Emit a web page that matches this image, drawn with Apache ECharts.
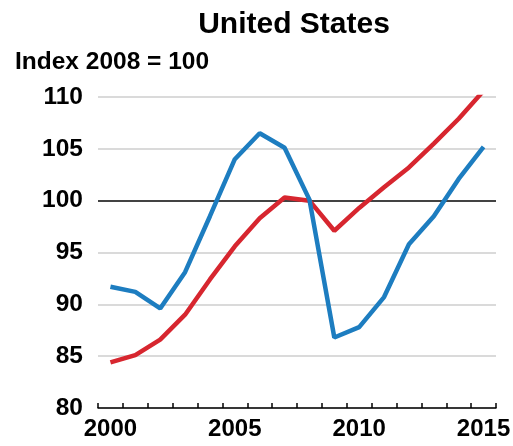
<!DOCTYPE html>
<html><head><meta charset="utf-8">
<script src="https://cdn.jsdelivr.net/npm/echarts@6/dist/echarts.min.js"></script>
<style>html,body{margin:0;padding:0;background:#fff}#c{width:513px;height:446px}</style>
</head><body><div id="c"></div>
<script>
const years = ['2000','2001','2002','2003','2004','2005','2006','2007','2008','2009','2010','2011','2012','2013','2014','2015'];
const blueValues = [91.7, 91.2, 89.6, 93.1, 98.5, 104.0, 106.5, 105.1, 100.1, 86.8, 87.8, 90.7, 95.8, 98.5, 102.1, 105.2];
const redValues = [84.4, 85.1, 86.6, 89.0, 92.4, 95.6, 98.3, 100.3, 100.0, 97.1, 99.3, 101.3, 103.2, 105.5, 107.9, 110.6];
const baseline = 100;
const yMin = 80, yMax = 110, yStep = 5;
const titleText = 'United States';
const unitText = 'Index 2008 = 100';

const FONT = '"Liberation Sans", Arial, Helvetica, sans-serif';
const chart = echarts.init(document.getElementById('c'), null, {renderer: 'canvas'});
chart.setOption({
  animation: false,
  backgroundColor: '#fff',
  grid: {left: 98, right: 17, top: 97, bottom: 38, containLabel: false, outerBoundsMode: 'none'},
  graphic: [
    {type: 'text', x: 294, y: 25, style: {text: titleText, textAlign: 'center', textVerticalAlign: 'middle', font: 'bold 30px ' + FONT, fill: '#000'}},
    {type: 'text', x: 15, y: 62, style: {text: unitText, textAlign: 'left', textVerticalAlign: 'middle', font: 'bold 24.5px ' + FONT, fill: '#000'}}
  ],
  xAxis: {
    type: 'category', data: years, boundaryGap: true,
    axisLine: {lineStyle: {color: '#000', width: 1.5}},
    axisTick: {show: true, inside: true, length: 5, interval: 0, lineStyle: {color: '#000', width: 1.5}},
    axisLabel: {interval: function (i) { return i % 5 === 0; }, color: '#000', fontSize: 24, fontWeight: 'bold', fontFamily: FONT, margin: 9},
    splitLine: {show: false}
  },
  yAxis: {
    type: 'value', min: yMin, max: yMax, interval: yStep,
    axisLine: {show: false}, axisTick: {show: false},
    axisLabel: {color: '#000', fontSize: 24.5, fontWeight: 'bold', fontFamily: FONT, margin: 15},
    splitLine: {show: true, lineStyle: {color: '#dadada', width: 2}}
  },
  series: [
    {
      name: 'red', type: 'line', data: redValues, symbol: 'none', z: 6, clip: true,
      lineStyle: {color: '#d7262f', width: 4.5}, itemStyle: {color: '#d7262f'},
      markLine: {silent: true, symbol: ['none', 'none'], label: {show: false}, z: 5,
        lineStyle: {color: '#111', width: 1.5, type: 'solid'}, data: [{yAxis: baseline}]}
    },
    {
      name: 'blue', type: 'line', data: blueValues, symbol: 'none', z: 7, clip: true,
      lineStyle: {color: '#1d7dc0', width: 4.5}, itemStyle: {color: '#1d7dc0'}
    }
  ]
});
</script></body></html>
